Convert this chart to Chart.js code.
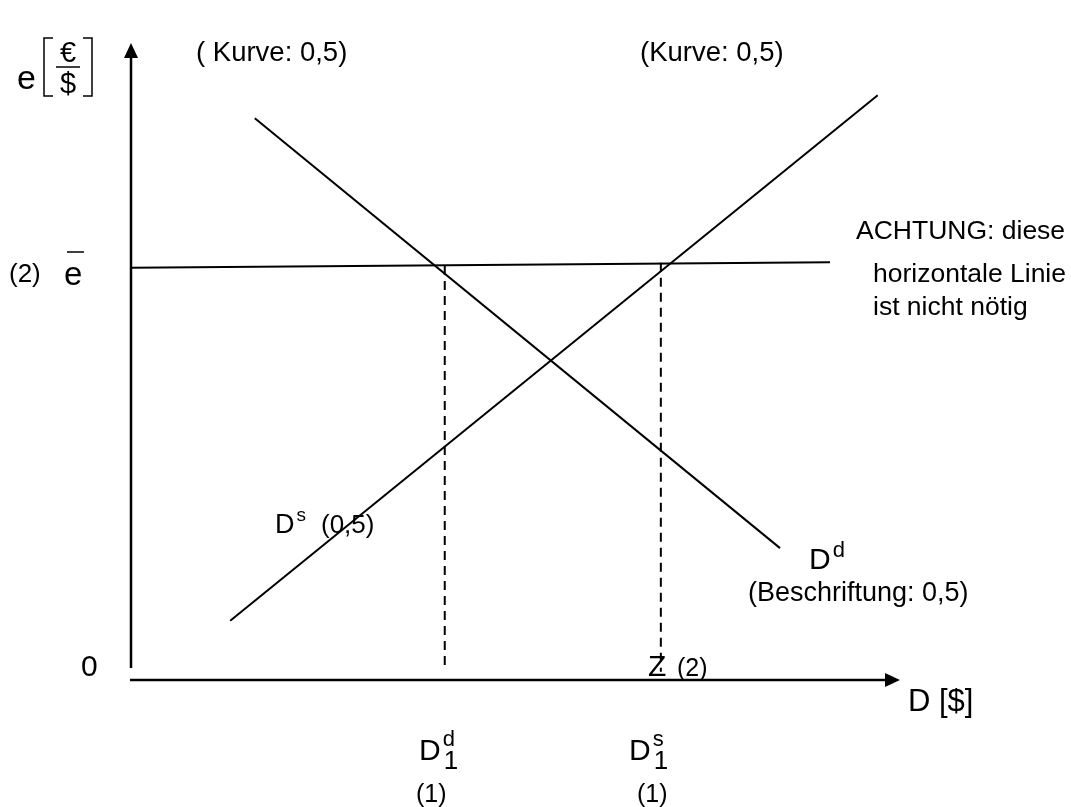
<!DOCTYPE html>
<html>
<head>
<meta charset="utf-8">
<script src="https://cdn.jsdelivr.net/npm/chart.js@4/dist/chart.umd.min.js"></script>
<style>
  html, body { margin: 0; padding: 0; background: #fff; }
  canvas { display: block; }
</style>
</head>
<body>
<canvas id="chart" width="1071" height="807"></canvas>
<script>
// line end points, in axis units (0..100 on both axes)
const supplyX = [12.9, 97.1];
const supplyY = [9.3, 91.8];
const demandX = [16.1, 84.4];
const demandY = [88.2, 20.7];
const rateX = [0, 90.9];
const rateY = [64.7, 65.6];
const d1dX = [40.8, 40.8];
const d1dY = [65.0, 1.9];
const d1sX = [68.9, 68.9];
const d1sY = [65.5, 1.3];

const FONT = '"Liberation Sans", Arial, sans-serif';

function pts(xs, ys) {
    return xs.map((x, i) => ({ x: x, y: ys[i] }));
}

function text(ctx, str, x, y, size, align) {
    ctx.font = size + 'px ' + FONT;
    ctx.textAlign = align || 'left';
    ctx.textBaseline = 'alphabetic';
    ctx.fillText(str, x, y);
    return ctx.measureText(str).width;
}

// D with super- and subscript, like D_1^d
function dLabel(ctx, x, y, sup, sub) {
    const w = text(ctx, 'D', x, y, 30);
    if (sup) text(ctx, sup, x + w + 2, y - 14, 22);
    if (sub) text(ctx, sub, x + w + 3, y + 9, 26);
}

const labelsPlugin = {
    id: 'labels',
    afterDatasetsDraw(chart) {
        const ctx = chart.ctx;
        const a = chart.chartArea;
        ctx.save();
        ctx.fillStyle = '#000';
        ctx.strokeStyle = '#000';

        // axes with arrow heads
        ctx.lineWidth = 2.5;
        ctx.beginPath();
        ctx.moveTo(a.left, 668);
        ctx.lineTo(a.left, a.top + 12);
        ctx.moveTo(a.left - 1, a.bottom);
        ctx.lineTo(a.right - 12, a.bottom);
        ctx.stroke();
        ctx.beginPath();
        ctx.moveTo(a.left, a.top);
        ctx.lineTo(a.left - 7, a.top + 15);
        ctx.lineTo(a.left + 7, a.top + 15);
        ctx.closePath();
        ctx.fill();
        ctx.beginPath();
        ctx.moveTo(a.right, a.bottom);
        ctx.lineTo(a.right - 15, a.bottom - 7);
        ctx.lineTo(a.right - 15, a.bottom + 7);
        ctx.closePath();
        ctx.fill();

        // y axis title e [€ / $]
        text(ctx, 'e', 17, 89, 34);
        ctx.lineWidth = 1.5;
        ctx.beginPath();
        ctx.moveTo(53, 38); ctx.lineTo(44, 38); ctx.lineTo(44, 96); ctx.lineTo(53, 96);
        ctx.moveTo(83, 38); ctx.lineTo(92, 38); ctx.lineTo(92, 96); ctx.lineTo(83, 96);
        ctx.moveTo(56, 67); ctx.lineTo(80, 67);
        ctx.stroke();
        text(ctx, '€', 68, 62, 29, 'center');
        text(ctx, '$', 68, 93, 29, 'center');

        // fixed rate e-bar
        text(ctx, '(2)', 9, 282, 26);
        text(ctx, 'e', 64, 285, 33);
        ctx.lineWidth = 1.5;
        ctx.beginPath();
        ctx.moveTo(67, 252); ctx.lineTo(84, 252);
        ctx.stroke();

        text(ctx, '0', 81, 676, 30);
        text(ctx, 'D [$]', 908, 711, 31);

        text(ctx, '( Kurve: 0,5)', 196, 61, 27.5);
        text(ctx, '(Kurve: 0,5)', 640, 61, 27.5);

        text(ctx, 'ACHTUNG: diese', 856, 239, 26.5);
        text(ctx, 'horizontale Linie', 873, 282, 26.5);
        text(ctx, 'ist nicht nötig', 873, 315, 26.5);

        // curve names
        let w = text(ctx, 'D', 275, 533, 27);
        text(ctx, 's', 275 + w + 2, 521, 19);
        text(ctx, '(0,5)', 321, 533, 26);
        w = text(ctx, 'D', 809, 569, 30);
        text(ctx, 'd', 809 + w + 2, 557, 22);
        text(ctx, '(Beschriftung: 0,5)', 748, 601, 27);

        // Z (2)
        text(ctx, 'Z', 648, 676, 30);
        text(ctx, '(2)', 677, 676, 25);

        // quantities below the x axis
        dLabel(ctx, 419, 760, 'd', '1');
        dLabel(ctx, 629, 760, 's', '1');
        text(ctx, '(1)', 416, 802, 25);
        text(ctx, '(1)', 637, 802, 25);

        ctx.restore();
    }
};

const lineStyle = {
    showLine: true,
    pointRadius: 0,
    borderColor: '#000',
    borderWidth: 2,
    fill: false
};

new Chart(document.getElementById('chart'), {
    type: 'scatter',
    data: {
        datasets: [
            Object.assign({ label: 'Dd', data: pts(demandX, demandY) }, lineStyle),
            Object.assign({ label: 'Ds', data: pts(supplyX, supplyY) }, lineStyle),
            Object.assign({ label: 'e', data: pts(rateX, rateY) }, lineStyle),
            Object.assign({ label: 'D1d', data: pts(d1dX, d1dY), borderDash: [9, 6] }, lineStyle),
            Object.assign({ label: 'D1s', data: pts(d1sX, d1sY), borderDash: [9, 6] }, lineStyle)
        ]
    },
    options: {
        responsive: false,
        animation: false,
        devicePixelRatio: 1,
        layout: { padding: { left: 131, right: 171, top: 43, bottom: 127 } },
        scales: {
            x: { type: 'linear', min: 0, max: 100, display: false },
            y: { type: 'linear', min: 0, max: 100, display: false }
        },
        plugins: {
            legend: { display: false },
            tooltip: { enabled: false }
        }
    },
    plugins: [labelsPlugin]
});
</script>
</body>
</html>
